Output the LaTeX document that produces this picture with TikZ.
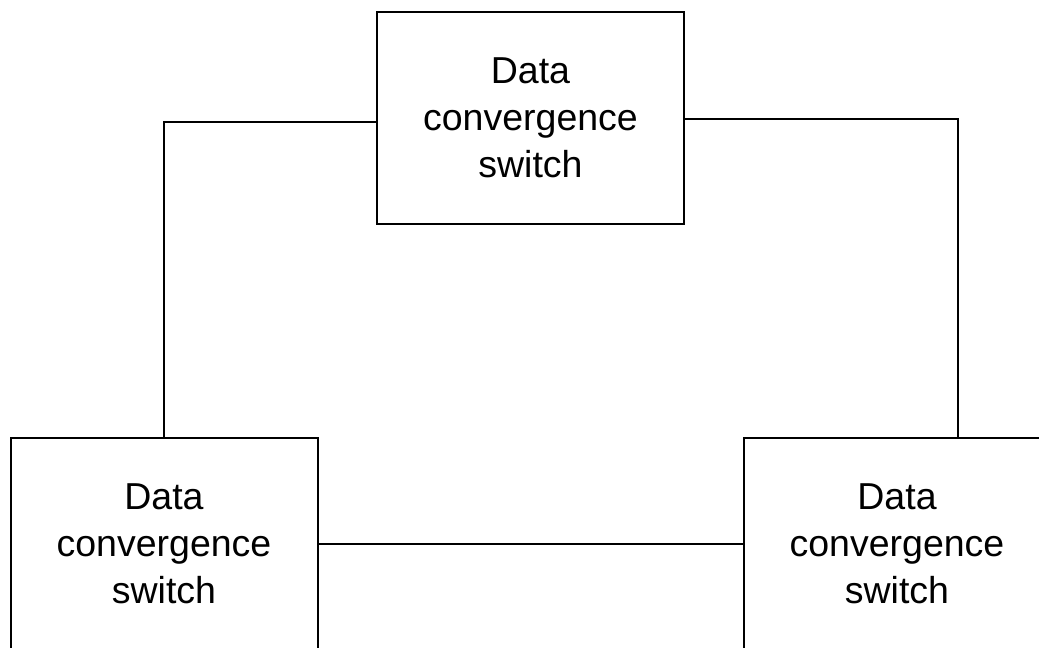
\documentclass[tikz,border=0pt]{standalone}
\usepackage{fontspec}
\setmainfont{Liberation Sans}
\begin{document}
\begin{tikzpicture}[x=1pt,y=1pt,
  switchbox/.style={draw, line width=2pt, minimum width=307pt, minimum height=212pt,
    inner sep=0pt, align=center, font=\fontsize{37.5}{47}\selectfont},
  link/.style={line width=2pt}]
\useasboundingbox (0,0) rectangle (1039,-648);
\clip (0,0) rectangle (1039,-648);
\node[switchbox] (T) at (530.5,-118) {Data\\convergence\\switch};
\node[switchbox] (L) at (164,-544) {Data\\convergence\\switch};
\node[switchbox] (R) at (897,-544) {Data\\convergence\\switch};
\draw[link] (L.north) |- ([yshift=-4pt]T.west);
\draw[link] ([yshift=-1pt]T.east) -| ([xshift=61pt]R.north);
\draw[link] (L.east) -- (R.west);
\end{tikzpicture}
\end{document}
